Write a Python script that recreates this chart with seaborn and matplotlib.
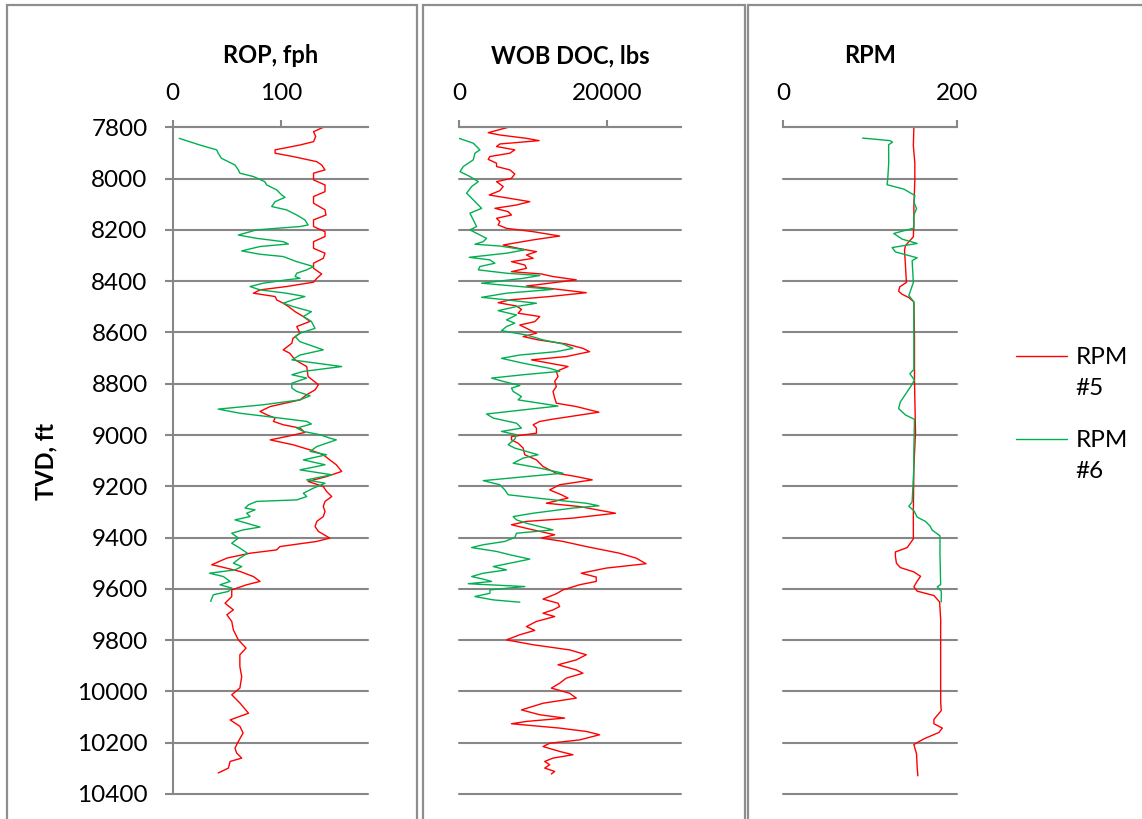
import numpy as np
import pandas as pd
import matplotlib
matplotlib.use("Agg")
import matplotlib.pyplot as plt
import seaborn as sns
from matplotlib.patches import Rectangle
from matplotlib.lines import Line2D
from matplotlib.legend_handler import HandlerLine2D

sns.set_theme(style="white")
plt.rcParams['font.family'] = ['Lato', 'DejaVu Sans']
plt.rcParams['text.color'] = 'black'

# ---------------- data ----------------
rop5_depth = [7800, 7817, 7836, 7856, 7869, 7888, 7901, 7914, 7934, 7947, 7966, 7979, 8005, 8025, 8051, 8070,
              8096, 8122, 8142, 8161, 8187, 8207, 8226, 8246, 8272, 8291, 8311, 8330, 8350, 8372, 8389, 8404,
              8421, 8434, 8447, 8460, 8473, 8486, 8499, 8519, 8538, 8557, 8577, 8603, 8623, 8642, 8668, 8681,
              8707, 8733, 8772, 8804, 8824, 8843, 8863, 8889, 8908, 8921, 8934, 8947, 8960, 8973, 8990, 9006,
              9019, 9038, 9058, 9077, 9097, 9116, 9142, 9162, 9181, 9201, 9220, 9240, 9259, 9279, 9298, 9318,
              9337, 9357, 9376, 9402, 9415, 9435, 9448, 9461, 9480, 9506, 9513, 9532, 9552, 9571, 9584, 9604,
              9630, 9656, 9682, 9701, 9727, 9760, 9799, 9831, 9857, 9903, 9942, 9987, 10013, 10045, 10085,
              10111, 10136, 10162, 10195, 10221, 10240, 10260, 10273, 10299, 10318]
rop5 = [139, 130, 132, 130, 117.5, 94.5, 94.5, 111, 133, 137.5, 140.6, 130, 130, 140.6, 140.6, 130,
        130, 140.6, 141.5, 130, 130, 140.6, 140.6, 130, 130, 140.6, 139, 130, 130, 137.5, 133, 130,
        105, 80.6, 74.5, 94.5, 96, 102, 106.8, 113, 120.6, 126.8, 114.5, 117.5, 111, 110, 102, 108,
        113, 123.7, 125, 134.5, 131.4, 123.7, 117.5, 90, 80.6, 86.8, 94.5, 93, 102, 117.5, 122, 105,
        90, 111, 126.8, 139, 145, 151, 156, 142, 125, 139, 142, 146.8, 140.6, 139, 140.6, 139,
        133, 131.4, 134.5, 145, 133, 99, 96, 71.4, 50, 36, 43.7, 62, 74.5, 80.6, 68.3, 54.5,
        54.5, 48.3, 56, 50, 54.5, 56, 60.6, 67.7, 62, 62, 63.7, 62, 54.5, 62, 70,
        53, 62, 65, 60.6, 57.5, 59, 63.7, 53, 51.4, 42]

rop6_depth = [7843, 7869, 7888, 7901, 7921, 7947, 7966, 7979, 7992, 8012, 8025, 8044, 8064, 8073, 8090, 8109,
              8122, 8142, 8161, 8181, 8187, 8200, 8220, 8233, 8246, 8255, 8265, 8282, 8295, 8304, 8324, 8343,
              8356, 8369, 8382, 8389, 8395, 8408, 8421, 8434, 8447, 8460, 8473, 8486, 8499, 8519, 8538, 8557,
              8584, 8603, 8616, 8636, 8668, 8688, 8707, 8733, 8752, 8765, 8778, 8798, 8817, 8830, 8847, 8863,
              8882, 8899, 8915, 8934, 8947, 8957, 8973, 8986, 8999, 9012, 9019, 9045, 9064, 9077, 9097, 9116,
              9136, 9155, 9175, 9188, 9207, 9227, 9240, 9253, 9259, 9272, 9285, 9292, 9305, 9318, 9331, 9344,
              9359, 9370, 9383, 9402, 9422, 9441, 9461, 9480, 9500, 9513, 9526, 9539, 9552, 9571, 9584, 9597,
              9610, 9623, 9649]
rop6 = [6, 25, 40.6, 42, 45, 57.5, 60.6, 62, 74.5, 85, 86.8, 96, 100.6, 103.7, 94.5, 91.4,
        105, 114.5, 122, 125, 117.5, 77.5, 60.6, 77.5, 102, 106.8, 80.6, 63.7, 80.6, 102, 114.5, 130,
        123.7, 114.5, 113, 117.5, 105, 83.7, 71.4, 80.6, 105, 122, 111, 102, 111, 128, 120.6, 128,
        131.4, 117.5, 113, 117.5, 139, 117.5, 110, 156, 120.6, 110, 123.7, 110, 110, 114.5, 126.8, 117.5,
        83.7, 42, 62, 99, 123.7, 128, 114.5, 120.6, 136, 145, 151, 133, 126.8, 142, 120.6, 140.6,
        117.5, 146.8, 123.7, 140.6, 130, 120.6, 123.7, 114.5, 77.5, 70, 66.8, 76, 68.3, 71.4, 57.5, 68.3,
        80.6, 65, 54.5, 60.6, 54.5, 62, 69, 62, 56, 63.7, 57.5, 34, 46.8, 53, 43.7, 54.5,
        51.4, 37.5, 35]

wob5_depth = [7800, 7821, 7830, 7843, 7852, 7865, 7875, 7888, 7901, 7914, 7925, 7940, 7953, 7966, 7982, 7999,
              8012, 8031, 8047, 8064, 8077, 8090, 8103, 8116, 8129, 8142, 8155, 8168, 8181, 8194, 8207, 8224,
              8239, 8259, 8272, 8285, 8298, 8311, 8324, 8337, 8350, 8363, 8372, 8382, 8395, 8408, 8419, 8428,
              8445, 8460, 8473, 8484, 8497, 8510, 8525, 8538, 8558, 8571, 8590, 8603, 8616, 8629, 8645, 8662,
              8675, 8694, 8707, 8720, 8733, 8752, 8772, 8791, 8811, 8830, 8856, 8876, 8889, 8911, 8928, 8938,
              8947, 8960, 8973, 8993, 9006, 9019, 9032, 9051, 9077, 9097, 9123, 9149, 9162, 9175, 9194, 9214,
              9233, 9246, 9266, 9279, 9305, 9324, 9337, 9350, 9367, 9389, 9402, 9415, 9435, 9461, 9480, 9502,
              9519, 9539, 9554, 9571, 9584, 9604, 9619, 9640, 9656, 9669, 9682, 9695, 9708, 9727, 9747, 9762,
              9779, 9799, 9818, 9838, 9857, 9877, 9896, 9916, 9929, 9948, 9968, 9987, 10007, 10026, 10046,
              10072, 10091, 10104, 10117, 10126, 10143, 10156, 10169, 10189, 10202, 10215, 10234, 10247,
              10260, 10273, 10286, 10299, 10312, 10322]
wob5 = [6650, 3950, 5530, 9130, 10835, 5530, 5080, 7550, 6880, 4180, 3950, 5080, 5080, 6880, 7550, 7100,
        5080, 5980, 5530, 4090, 6880, 9580, 7780, 4860, 6650, 7100, 5080, 5530, 5300, 6430, 10030, 13620,
        10030, 5980, 8000, 10480, 9130, 10030, 7100, 8900, 9130, 7100, 11150, 12720, 15870, 12270, 9130, 12270,
        17220, 12270, 6880, 5300, 7780, 8450, 8000, 10930, 10250, 8230, 9580, 10480, 8680, 10700, 14520, 16770,
        17670, 14520, 9800, 12270, 14750, 13170, 13400, 12950, 13170, 12720, 12950, 13170, 15870, 18930, 14970, 12720,
        10930, 10030, 10480, 10480, 7100, 7100, 8000, 8680, 8900, 10480, 11370, 13170, 15870, 18030, 13620, 12270,
        13850, 14750, 11820, 16320, 21180, 15420, 9130, 7100, 9580, 12950, 11150, 14070, 17220, 21720, 23960, 25310,
        19920, 16540, 18570, 18570, 16320, 14070, 13170, 11370, 13400, 13620, 12720, 11370, 12950, 10480, 9130, 10250,
        8230, 6430, 10030, 14970, 17220, 15870, 13400, 15870, 16770, 14520, 13620, 12500, 14970, 15870, 11370,
        8450, 10930, 14300, 9130, 7100, 13620, 17220, 19020, 16320, 12270, 11370, 13620, 15420,
        12720, 11600, 12270, 11600, 12950, 12500]

wob6_depth = [7843, 7862, 7888, 7901, 7927, 7953, 7973, 7992, 8012, 8031, 8057, 8083, 8116, 8135, 8161, 8187,
              8200, 8220, 8233, 8246, 8256, 8263, 8278, 8291, 8307, 8317, 8330, 8343, 8356, 8369, 8378, 8389,
              8408, 8421, 8432, 8447, 8463, 8473, 8486, 8499, 8515, 8532, 8551, 8564, 8577, 8593, 8610, 8629,
              8645, 8662, 8675, 8688, 8701, 8720, 8740, 8752, 8765, 8778, 8791, 8807, 8817, 8830, 8850, 8863,
              8876, 8887, 8902, 8918, 8934, 8954, 8973, 8986, 8999, 9016, 9038, 9051, 9077, 9090, 9110, 9129,
              9149, 9162, 9178, 9194, 9214, 9233, 9250, 9266, 9276, 9285, 9295, 9305, 9318, 9331, 9344, 9357,
              9370, 9383, 9400, 9415, 9428, 9439, 9454, 9467, 9484, 9500, 9513, 9526, 9539, 9552, 9562, 9571,
              9580, 9591, 9604, 9617, 9630, 9643, 9652]
wob6 = [0, 1930, 2830, 2160, 1930, 580, 135, 1480, 2610, 1710, 1030, 1930, 3060, 1480, 1930, 2380,
        1480, 2830, 3730, 3280, 2160, 5530, 8900, 6430, 1390, 4180, 4860, 2830, 2610, 6430, 10930, 8680,
        3060, 8230, 12720, 6430, 3060, 6430, 10480, 7780, 5300, 7780, 6430, 7550, 6430, 5750, 9130, 11370,
        14070, 15420, 13170, 8230, 5750, 8680, 12270, 13620, 8680, 4410, 5980, 8230, 7100, 7330, 8450, 8000,
        10930, 13400, 8680, 3730, 4630, 7780, 8450, 5750, 7780, 7550, 6650, 7550, 10700, 8680, 7330, 10930,
        14070, 9130, 3280, 5530, 6200, 6650, 11820, 17220, 18930, 15420, 12720, 10030, 7330, 7780, 9130, 10930,
        12720, 7780, 7550, 6200, 3280, 1710, 5080, 6880, 9580, 6880, 4630, 6430, 3280, 1710, 3280, 4410,
        1260, 8900, 4180, 4180, 2160, 4630, 8230]

rpm5_depth = [7800, 7871, 7939, 8007, 8108, 8176, 8227, 8261, 8278, 8346, 8405, 8422, 8439, 8451, 8464, 8481,
              8617, 8786, 8990, 9125, 9295, 9405, 9439, 9456, 9473, 9500, 9517, 9534, 9551, 9570, 9592, 9609,
              9626, 9651, 9719, 9973, 10041, 10075, 10109, 10126, 10143, 10160, 10185, 10207, 10244, 10295, 10329]
rpm5 = [150.6, 150, 151.7, 151.7, 150.6, 150.6, 150, 141, 139.8, 141, 142, 134.4, 133, 137, 144.8, 150.6,
        151.3, 151.3, 152.5, 150.6, 150, 150, 142.9, 129.3, 129.3, 130.5, 135, 150.6, 158.3, 154.4, 150.6, 154.4,
        173.7, 180.3, 181.5, 181.5, 181.5, 182.2, 173.7, 173.7, 183.4, 179.5, 162.2, 150.6, 153.7, 154.4, 155.2]

rpm6_depth = [7842, 7852, 7858, 7868, 7939, 8000, 8024, 8041, 8066, 8092, 8117, 8142, 8193, 8214, 8236, 8253,
              8269, 8286, 8309, 8320, 8405, 8456, 8481, 8617, 8744, 8761, 8786, 8812, 8871, 8897, 8922, 8939,
              9058, 9125, 9261, 9278, 9295, 9320, 9337, 9354, 9371, 9393, 9464, 9583, 9592, 9609, 9651]
rpm6 = [91.5, 123, 126, 121.5, 121.6, 120.5, 119.7, 139, 151.7, 150.6, 153.7, 150.6, 150.6, 127.4, 137, 154.4,
        125.5, 129.3, 154.4, 148.6, 150, 144.8, 150.6, 150.6, 150.6, 146, 151.3, 146.7, 135, 133, 141, 151.3,
        150.6, 150.6, 148.6, 144.8, 150.6, 154.4, 164, 169, 171.8, 180.7, 180.7, 181.5, 177.6, 182.2, 182.2]

series_names = ["RPM #5", "RPM #6"]
depth_ticks = list(range(7800, 10401, 200))
panel_titles = ["ROP, fph", "WOB DOC, lbs", "RPM"]
x_limits = [180, 30000, 200]
x_ticks = [[0, 100], [0, 20000], [0, 200]]
y_title = "TVD, ft"

# ---------------- style ----------------
W, H = 1142, 819
RED, GREEN = "#FF0000", "#00B050"
GRID = "#878787"
FRAME = "#8E8E8E"
PAL = {series_names[0]: RED, series_names[1]: GREEN}
FS = 17.5
FS_TITLE = 17


class FirstLineHandler(HandlerLine2D):
    """Draw the legend line level with the first line of a wrapped label."""
    def __init__(self, dy=0.0, **kw):
        super().__init__(**kw)
        self.dy = dy

    def create_artists(self, legend, orig_handle, xdescent, ydescent, width, height, fontsize, trans):
        arts = super().create_artists(legend, orig_handle, xdescent, ydescent, width, height, fontsize, trans)
        for a in arts:
            if isinstance(a, Line2D):
                a.set_ydata(np.asarray(a.get_ydata(), dtype=float) + self.dy * fontsize)
        return arts


def make_df(d5, v5, d6, v6):
    a = pd.DataFrame({"depth": d5, "value": v5, "well": series_names[0]})
    b = pd.DataFrame({"depth": d6, "value": v6, "well": series_names[1]})
    return pd.concat([a, b], ignore_index=True)


frames = [make_df(rop5_depth, rop5, rop6_depth, rop6),
          make_df(wob5_depth, wob5, wob6_depth, wob6),
          make_df(rpm5_depth, rpm5, rpm6_depth, rpm6)]

fig = plt.figure(figsize=(W / 100, H / 100), dpi=100)

# chart frames (each panel was a separate chart object)
for x0, x1 in [(7, 416.5), (422.5, 744.5), (747.5, 1170)]:
    fig.patches.append(Rectangle((x0 / W, -0.1), (x1 - x0) / W, 1 - 5 / H + 0.1,
                                 transform=fig.transFigure, fill=False,
                                 ec=FRAME, lw=1.6, zorder=0))

top_px, bot_px = 127.3, 794.0
axes_px = [(172.7, 367.7), (459.0, 680.7), (783.3, 956.7)]
axes = []
for i, (l, r) in enumerate(axes_px):
    ax = fig.add_axes([l / W, 1 - bot_px / H, (r - l) / W, (bot_px - top_px) / H])
    ax.patch.set_alpha(0)
    sns.lineplot(data=frames[i], x="value", y="depth", hue="well", palette=PAL,
                 sort=False, estimator=None, lw=1.0, ax=ax, legend=(i == 2))
    ax.set_ylim(10400, 7800)
    ax.set_xlim(0, x_limits[i])
    ax.set_xticks(x_ticks[i])
    ax.set_yticks(depth_ticks)
    ax.xaxis.tick_top()
    ax.grid(False)
    for yv in depth_ticks:
        ax.axhline(yv, color=GRID, lw=1.5, zorder=0.5, clip_on=False)
    for s in ["bottom", "right"]:
        ax.spines[s].set_visible(False)
    ax.spines["top"].set_color(GRID)
    ax.spines["top"].set_linewidth(1.5)
    if i == 0:
        ax.spines["left"].set_color(GRID)
        ax.spines["left"].set_linewidth(1.5)
        ax.tick_params(axis="y", left=True, length=6, width=1.5, color=GRID, pad=12,
                       labelsize=FS, labelcolor="black", labelleft=True)
    else:
        ax.spines["left"].set_visible(False)
        ax.tick_params(axis="y", left=False, labelleft=False)
    ax.tick_params(axis="x", top=True, bottom=False, labeltop=True, labelbottom=False,
                   direction="out", length=5, width=1.5, color=GRID, pad=12,
                   labelsize=FS, labelcolor="black")
    ax.set_xlabel("")
    ax.set_ylabel("")
    ax.set_title(panel_titles[i], fontsize=FS_TITLE, fontweight="bold",
                 y=1 + (top_px - 63) / (bot_px - top_px), pad=0)
    axes.append(ax)

fig.text(46 / W, 1 - 462 / H, y_title, rotation=90, ha="center", va="center",
         fontsize=FS_TITLE, fontweight="bold")

# legend
leg0 = axes[2].get_legend()
handles = leg0.legend_handles
labels = [t.get_text().replace(" ", "\n") for t in leg0.get_texts()]
leg0.remove()
leg = fig.legend(handles, labels, loc="upper left", bbox_to_anchor=(1016 / W, 1 - 347 / H),
                 frameon=False, fontsize=FS, handlelength=2.1, handletextpad=0.35,
                 labelspacing=1.25, borderpad=0, borderaxespad=0,
                 handler_map={Line2D: FirstLineHandler(dy=0.7)})
for t in leg.get_texts():
    t.set_linespacing(1.6)
for h in leg.legend_handles:
    h.set_linewidth(1.0)

fig.savefig("out.png", dpi=100)
